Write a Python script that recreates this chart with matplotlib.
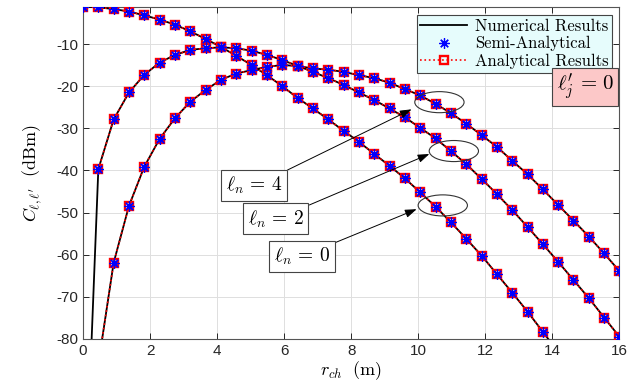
import numpy as np
import matplotlib
matplotlib.use('Agg')
import matplotlib.pyplot as plt
from matplotlib.patches import Ellipse
from matplotlib.lines import Line2D

plt.rcParams['mathtext.fontset'] = 'cm'
plt.rcParams['axes.unicode_minus'] = False
plt.rcParams['font.family'] = ['Liberation Sans', 'DejaVu Sans']

nan = np.nan
# radial distance grid (m)
r_ch = np.linspace(0, 16, 36)

# C_{l,l'} in dBm for l_n = 0, 2, 4
C_ln0 = [-1.15, -1.3, -1.7, -2.3, -3.2, -4.2, -5.4, -7.0, -8.8, -10.7,
         -12.8, -15.0, -17.4, -20.0, -22.8, -25.3, -27.9, -30.6, -33.2, -36.1,
         -38.9, -41.9, -45.2, -48.6, -52.3, -56.2, -60.2, -64.6, -69.0, -73.5,
         -78.3, -83.1, nan, nan, nan, nan]
C_ln2 = [nan, -39.7, -27.9, -21.5, -17.3, -14.4, -12.6, -11.4, -11.0, -10.8,
         -11.0, -11.6, -12.6, -13.8, -15.2, -16.6, -18.1, -19.7, -21.5, -23.3,
         -25.3, -27.4, -29.9, -32.4, -35.4, -38.5, -42.0, -45.6, -49.4, -53.4,
         -57.5, -61.7, -66.0, -70.3, -74.9, -79.5]
C_ln4 = [nan, -86.0, -61.9, -48.4, -39.1, -32.5, -27.6, -23.7, -20.9, -18.5,
         -17.0, -16.2, -15.4, -15.0, -15.2, -15.8, -16.1, -16.6, -17.4, -18.1,
         -19.2, -20.7, -22.2, -24.2, -26.4, -28.9, -31.6, -34.4, -37.7, -40.9,
         -44.5, -48.2, -51.9, -55.7, -59.7, -63.9]
# numerical curve value at r = 0 for l_n = 2 (far below the axis)
C_ln2_num_r0 = -132.0

curves = [C_ln0, C_ln2, C_ln4]
labels = [r'$\ell_n\,=\,0$', r'$\ell_n\,=\,2$', r'$\ell_n\,=\,4$']

fig = plt.figure(figsize=(6.37, 3.88), dpi=100)
ax = fig.add_axes([0.1303, 0.1263, 0.8422, 0.8564])

sq = dict(marker='s', ms=5.5, mfc='none', mec='red', mew=1.7)
st = dict(marker=(8, 2, 0), ms=7.5, mec='blue', mew=0.9)

for k, c in enumerate(curves):
    num = list(c)
    if k == 1:
        num[0] = C_ln2_num_r0
    ax.plot(r_ch, num, color='black', lw=1.3, zorder=3)
    ax.plot(r_ch, c, color='red', ls=':', lw=1.2, zorder=4, **sq)
    ax.plot(r_ch, c, ls='none', color='blue', zorder=5, **st)

ax.set_xlim(0, 16)
ax.set_ylim(-80, C_ln0[0])
ax.set_xticks(np.arange(0, 17, 2))
ax.set_yticks(np.arange(-80, -9, 10))
ax.grid(True, color='#dedede', lw=0.7)
ax.set_axisbelow(True)
ax.tick_params(direction='in', top=True, right=True, length=4,
               labelsize=11, colors='#262626', width=0.7)
for s in ax.spines.values():
    s.set_color('#555555')
    s.set_linewidth(0.8)

ax.set_xlabel(r'$r_{ch}\ \ (\mathrm{m})$', fontsize=13, labelpad=1)
ax.set_ylabel(r"$C_{\ell,\ell'}\ \ (\mathrm{dBm})$", fontsize=13, labelpad=9)

# legend
h_num = Line2D([], [], color='black', lw=1.3)
h_semi = Line2D([], [], ls='none', **st)
h_ana = Line2D([], [], color='red', ls=':', lw=1.2, **sq)
leg = ax.legend([h_num, h_semi, h_ana],
                ['Numerical Results', 'Semi-Analytical', 'Analytical Results'],
                loc='upper right', bbox_to_anchor=(0.993, 0.985),
                prop={'family': 'cmr10', 'size': 12}, fancybox=False,
                framealpha=1, facecolor='#e6fcfc', edgecolor='#444444',
                handlelength=2.8, handletextpad=0.5, borderpad=0.2,
                labelspacing=0.15, borderaxespad=0.2)
leg.get_frame().set_linewidth(0.8)
leg.set_zorder(10)

ax.text(15.84, -20.2, r"$\ell_j^{\prime}\,=\,0$", fontsize=15, ha='right', va='center',
        bbox=dict(boxstyle='square,pad=0.2', fc='#fcc8c8', ec='#444444', lw=0.8),
        zorder=11)

# ellipses around the highlighted markers
ell = [(10.73, -48.3), (11.06, -35.4), (10.63, -23.8)]
for (cx, cy) in ell:
    ax.add_patch(Ellipse((cx, cy), 1.47, 5.0, fill=False, ec='#333333',
                         lw=0.8, zorder=6))

# label boxes with arrows
boxes = [(6.53, -60.5), (5.74, -51.5), (5.10, -43.5)]
starts = [(7.47, -57.3), (6.75, -48.2), (6.10, -39.9)]
tips = [(9.95, -49.2), (10.33, -36.1), (9.80, -25.5)]
for lab, b, s, t in zip(labels, boxes, starts, tips):
    ax.annotate('', xy=t, xytext=s,
                arrowprops=dict(arrowstyle='-|>,head_length=0.7,head_width=0.25',
                                color='black', lw=0.7, shrinkA=0, shrinkB=0),
                zorder=7)
    ax.text(b[0], b[1], lab, fontsize=14, ha='center', va='center',
            bbox=dict(boxstyle='square,pad=0.25', fc='white', ec='#444444', lw=0.8),
            zorder=8)

fig.savefig('out.png', dpi=100)
